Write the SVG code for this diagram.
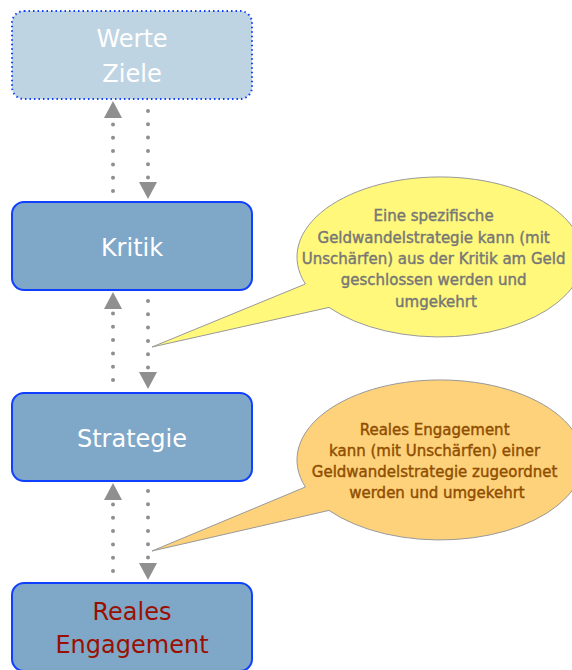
<svg xmlns="http://www.w3.org/2000/svg" width="572" height="670" viewBox="0 0 572 670">
<style>
.box{fill:#7fa7c8;stroke:#1040ff;stroke-width:2}
.ghost{fill:#bfd4e2;stroke:#1040ff;stroke-width:2;stroke-dasharray:1.5 3}
.lbl{font-family:"DejaVu Sans",sans-serif;font-size:24px;text-anchor:middle;fill:#ffffff}
.red{fill:#9a1000}
.dots{stroke:#8f8f8f;stroke-width:4;stroke-linecap:round;stroke-dasharray:0 13.3;fill:none}
.call{font-family:"DejaVu Sans",sans-serif;font-size:15px;text-anchor:middle;stroke-width:0.4}
.y{fill:#fff87a;stroke:#999999;stroke-width:1}
.o{fill:#fdd27b;stroke:#999999;stroke-width:1}
</style>
<defs>
<marker id="head" markerUnits="userSpaceOnUse" markerWidth="17" markerHeight="18" refX="0" refY="9" orient="auto">
<path d="M0,0 L17,9 L0,18 z" fill="#8f8f8f"/>
</marker>
</defs>
<rect width="572" height="670" fill="#ffffff"/>
<g id="connectors">
<line class="dots" x1="113" y1="191" x2="113" y2="118" marker-end="url(#head)"/>
<line class="dots" x1="148" y1="111" x2="148" y2="182" marker-end="url(#head)"/>
<line class="dots" x1="113" y1="380" x2="113" y2="309" marker-end="url(#head)"/>
<line class="dots" x1="148" y1="301" x2="148" y2="372" marker-end="url(#head)"/>
<line class="dots" x1="113" y1="571" x2="113" y2="500" marker-end="url(#head)"/>
<line class="dots" x1="148" y1="491" x2="148" y2="563" marker-end="url(#head)"/>
</g>
<g id="werte">
<rect class="ghost" x="12" y="11" width="240" height="88" rx="12"/>
<text class="lbl" x="132" y="47">Werte</text>
<text class="lbl" x="132" y="82">Ziele</text>
</g>
<g id="kritik">
<rect class="box" x="12" y="202" width="240" height="88" rx="12"/>
<text class="lbl" x="132" y="256">Kritik</text>
</g>
<g id="strategie">
<rect class="box" x="12" y="393" width="240" height="88" rx="12"/>
<text class="lbl" x="132" y="447">Strategie</text>
</g>
<g id="reales">
<rect class="box" x="12" y="583" width="240" height="88" rx="12"/>
<text class="lbl red" x="132" y="620">Reales</text>
<text class="lbl red" x="132" y="653">Engagement</text>
</g>
<g id="callout-kritik">
<path class="y" d="M305.4,284 L152,347 L329,307.4 A143,80 0 1 0 305.4,284 Z"/>
<text class="call" fill="#767676" stroke="#767676">
<tspan x="436" y="221">Eine spezifische</tspan>
<tspan x="436" y="243">Geldwandelstrategie kann (mit</tspan>
<tspan x="436" y="264">Unschärfen) aus der Kritik am Geld</tspan>
<tspan x="436" y="285">geschlossen werden und</tspan>
<tspan x="436" y="307">umgekehrt</tspan>
</text>
</g>
<g id="callout-engagement">
<path class="o" d="M305.4,487 L152,551 L329,510.4 A143,80 0 1 0 305.4,487 Z"/>
<text class="call" fill="#8f4d00" stroke="#8f4d00">
<tspan x="437" y="435">Reales Engagement</tspan>
<tspan x="437" y="456">kann (mit Unschärfen) einer</tspan>
<tspan x="437" y="477">Geldwandelstrategie zugeordnet</tspan>
<tspan x="437" y="498">werden und umgekehrt</tspan>
</text>
</g>
</svg>
